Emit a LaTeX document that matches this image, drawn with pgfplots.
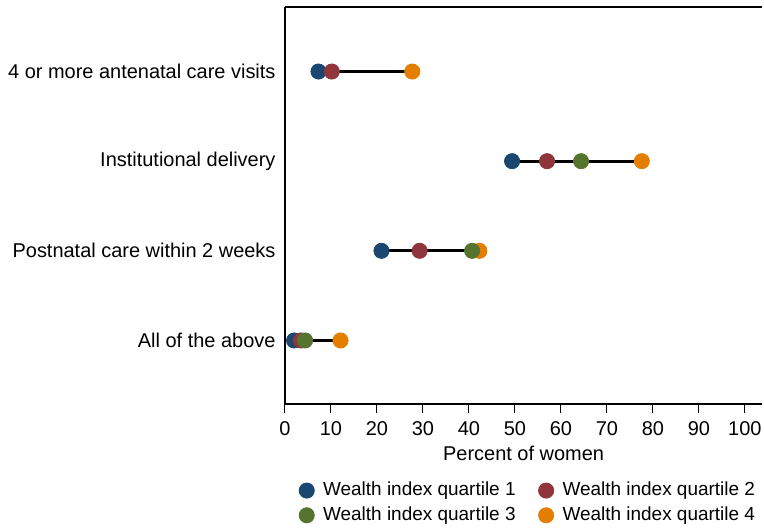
\documentclass[border=0pt]{standalone}
\usepackage{fontspec}
\setmainfont{Liberation Sans}
\usepackage{pgfplots}
\pgfplotsset{compat=1.18}
\definecolor{q1}{RGB}{26,71,111}
\definecolor{q2}{RGB}{144,53,59}
\definecolor{q3}{RGB}{85,117,47}
\definecolor{q4}{RGB}{227,126,0}
\begin{document}
\fontsize{10}{12}\selectfont
\begin{tikzpicture}
\begin{axis}[name=ax, scale only axis, width=239.25pt, height=199pt,
  xmin=0, xmax=103.8, ymin=0.29, ymax=4.72,
  axis x line*=box, axis y line*=left,
  xtick={0,10,...,100}, ytick={1,2,3,4},
  yticklabels={All of the above, Postnatal care within 2 weeks, Institutional delivery, 4 or more antenatal care visits},
  xtick pos=left,
  tick align=outside, major tick length=4.5pt,
  y tick style={draw=none},
  axis line style={line width=0.9pt, black},
  x tick style={line width=0.6pt, black},
  xlabel={Percent of women},
  xlabel style={yshift=1.5pt},
  tick label style={font=\fontsize{10}{12}\selectfont},
  xticklabel style={inner xsep=0pt, yshift=-0.5pt},
  yticklabel style={inner xsep=0pt},
  label style={font=\fontsize{10}{12}\selectfont},
  /pgf/number format/assume math mode=true,
  clip=false,
  legend columns=2,
  legend style={at={(0.5,-0.178)}, anchor=north, xshift=2.5pt, draw=none, fill=none,
    font=\fontsize{9.5}{11}\selectfont,
    nodes={inner sep=1.5pt},
    row sep=1pt,
    /tikz/every even column/.append style={column sep=10pt}},
  legend image code/.code={\draw[#1] plot coordinates {(3.8pt,0pt)};\path[draw=none,fill=none] (0pt,-4pt) rectangle (10.5pt,4pt);},
]
\addplot[black, line width=1.4pt, forget plot] coordinates {(7.3,4) (27.7,4)};
\addplot[black, line width=1.4pt, forget plot] coordinates {(49.4,3) (77.6,3)};
\addplot[black, line width=1.4pt, forget plot] coordinates {(21.0,2) (42.3,2)};
\addplot[black, line width=1.4pt, forget plot] coordinates {(2.0,1) (13.6,1)};
\addplot[only marks, mark=*, mark size=3.8pt, color=q4, forget plot] coordinates {(27.7,4) (77.6,3) (42.3,2) (12.1,1)};
\addplot[only marks, mark=*, mark size=3.8pt, color=q1] coordinates {(7.3,4) (49.4,3) (21.0,2) (2.0,1)};
\addlegendentry{Wealth index quartile 1}
\addplot[only marks, mark=*, mark size=3.8pt, color=q2] coordinates {(10.2,4) (57.0,3) (29.3,2) (3.5,1)};
\addlegendentry{Wealth index quartile 2}
\addplot[only marks, mark=*, mark size=3.8pt, color=q3] coordinates {(64.4,3) (40.7,2) (4.4,1)};
\addlegendentry{Wealth index quartile 3}
\addlegendimage{only marks, mark=*, mark size=3.8pt, color=q4}
\addlegendentry{Wealth index quartile 4}
\end{axis}
\path ([xshift=-142.75pt, yshift=-62.5pt]ax.south west) rectangle ([yshift=3.5pt]ax.north east);
\end{tikzpicture}
\end{document}
